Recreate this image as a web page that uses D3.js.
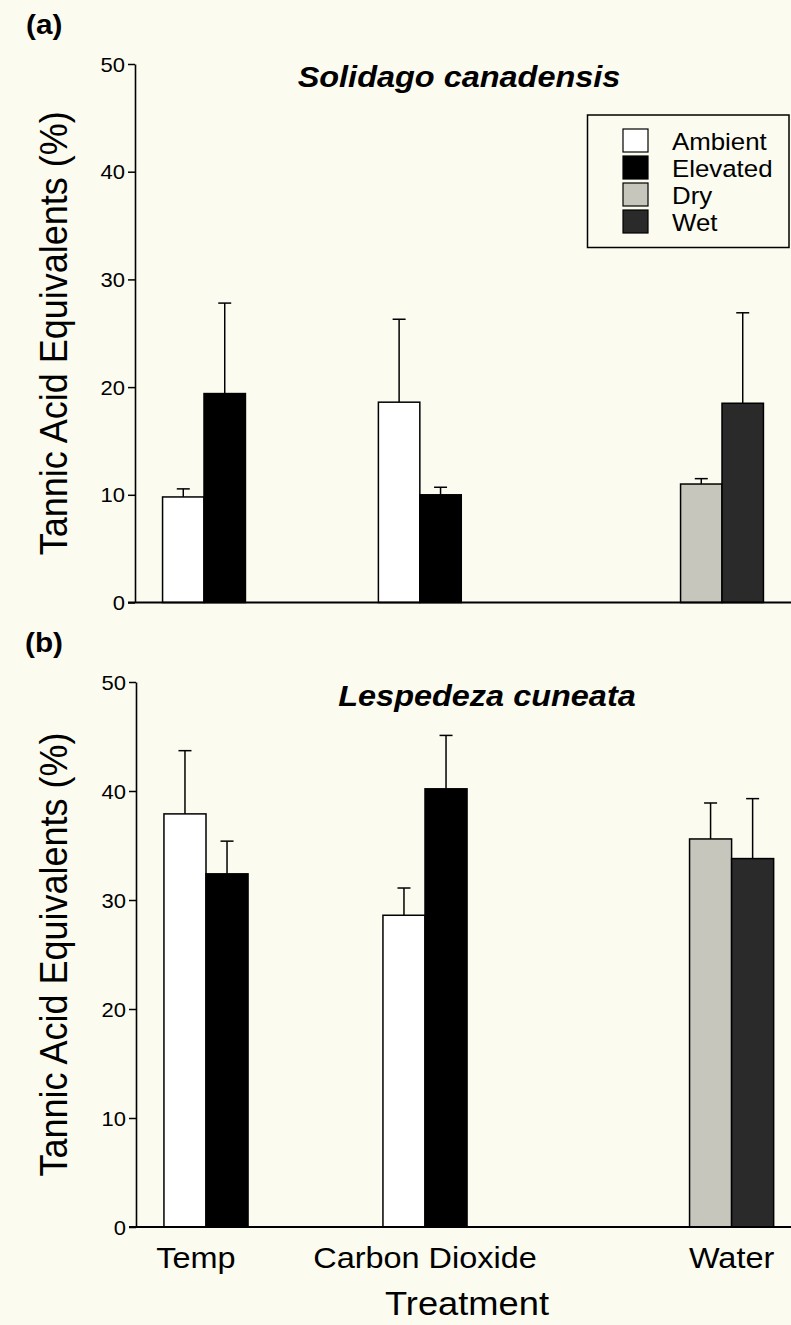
<!DOCTYPE html>
<html>
<head>
<meta charset="utf-8">
<script src="https://cdn.jsdelivr.net/npm/d3@7"></script>
<style>
  html, body { margin: 0; padding: 0; background: #fbfbef; }
  svg { display: block; }
  text { font-family: "Liberation Sans", Arial, sans-serif; fill: #000; }
</style>
</head>
<body>
<svg id="chart" width="791" height="1325"></svg>
<script>
// ---------------- DATA ----------------
const categories = ["Temp", "Carbon Dioxide", "Water"];
const seriesNames = ["Ambient", "Elevated", "Dry", "Wet"];
const groupSeries = [["Ambient", "Elevated"], ["Ambient", "Elevated"], ["Dry", "Wet"]];
const yTicks = [0, 10, 20, 30, 40, 50];

// (a) Solidago canadensis
const solidagoFirst = [9.8, 18.6, 11.0];      // Ambient, Ambient, Dry
const solidagoFirstSE = [0.75, 7.7, 0.5];
const solidagoSecond = [19.4, 10.0, 18.5];    // Elevated, Elevated, Wet
const solidagoSecondSE = [8.4, 0.7, 8.4];

// (b) Lespedeza cuneata
const lespedezaFirst = [37.9, 28.6, 35.6];
const lespedezaFirstSE = [5.8, 2.5, 3.3];
const lespedezaSecond = [32.4, 40.2, 33.8];
const lespedezaSecondSE = [3.0, 4.9, 5.5];

// ---------------- LAYOUT / STYLE ----------------
const groupSlot = [0, 5, 12];           // relative slot of each treatment group on x
const fills = d3.scaleOrdinal().domain(seriesNames).range(["#ffffff", "#000000", "#c6c6bd", "#2a2a2a"]);
const SX = 1.1;                          // horizontal stretch of the original figure's type
const FONT = '"Liberation Sans", Arial, sans-serif';

const svg = d3.select("#chart");

function stretchedText(g, x, y, str, opts) {
  const t = g.append("text")
    .attr("transform", `translate(${x},${y}) scale(${SX},1)` + (opts.rotate ? ` rotate(${opts.rotate})` : ""))
    .attr("text-anchor", opts.anchor || "middle")
    .style("font-size", opts.size + "px")
    .style("font-weight", opts.weight || "normal")
    .style("font-style", opts.italic ? "italic" : "normal")
    .text(str);
  return t;
}

function drawPanel(cfg) {
  const g = svg.append("g");
  const y = d3.scaleLinear().domain([0, 50]).range([cfg.yBottom, cfg.yTop]);
  const x = d3.scaleLinear().domain([0, 12]).range(cfg.xRange);
  const step = (cfg.xRange[1] - cfg.xRange[0]) / 12;
  const barW = step * 0.96;
  const inner = d3.scaleBand().domain([0, 1]).range([-barW, barW]).padding(0);

  const rows = [];
  categories.forEach((c, i) => {
    rows.push({cat: i, k: 0, series: groupSeries[i][0], v: cfg.first[i], se: cfg.firstSE[i]});
    rows.push({cat: i, k: 1, series: groupSeries[i][1], v: cfg.second[i], se: cfg.secondSE[i]});
  });

  // error bars (upper only)
  const eb = g.append("g").attr("stroke", "#000").attr("stroke-width", 1.5);
  rows.forEach(d => {
    const cx = x(groupSlot[d.cat]) + inner(d.k) + inner.bandwidth() / 2;
    eb.append("line").attr("x1", cx).attr("x2", cx).attr("y1", y(d.v)).attr("y2", y(d.v + d.se));
    eb.append("line").attr("x1", cx - 6.5).attr("x2", cx + 6.5).attr("y1", y(d.v + d.se)).attr("y2", y(d.v + d.se));
  });

  // bars
  g.append("g").selectAll("rect").data(rows).join("rect")
    .attr("x", d => x(groupSlot[d.cat]) + inner(d.k))
    .attr("width", inner.bandwidth())
    .attr("y", d => y(d.v))
    .attr("height", d => y(0) - y(d.v))
    .attr("fill", d => fills(d.series))
    .attr("stroke", "#000")
    .attr("stroke-width", 1.5);

  // y axis
  const ya = g.append("g").attr("transform", `translate(${cfg.axisX},0)`)
    .call(d3.axisLeft(y).tickValues(yTicks).tickSize(7).tickSizeOuter(0).tickPadding(3));
  ya.select(".domain").attr("stroke", "#000").attr("stroke-width", 1.6);
  ya.selectAll(".tick line").attr("stroke", "#000").attr("stroke-width", 1.5);
  ya.selectAll(".tick text").each(function () {
    const t = d3.select(this);
    const tx = +t.attr("x");
    t.attr("x", null).attr("dy", "0.35em")
      .attr("transform", `translate(${tx},0) scale(${SX},1)`)
      .style("font-size", "20px").style("font-family", FONT).attr("fill", "#000");
  });

  // x axis line
  g.append("line")
    .attr("x1", cfg.axisX - 7).attr("x2", 791)
    .attr("y1", y(0)).attr("y2", y(0))
    .attr("stroke", "#000").attr("stroke-width", 2);

  // y axis title
  stretchedText(g, 67, (cfg.yTop + cfg.yBottom) / 2, "Tannic Acid Equivalents (%)", {size: 36, rotate: -90});

  // panel letter
  stretchedText(g, cfg.letterX, cfg.letterY, cfg.letter, {size: 27, weight: "bold", anchor: "start"});

  // species title
  stretchedText(g, cfg.titleX, cfg.titleY, cfg.title, {size: 29.5, weight: "bold", italic: true});

  return {g, x, y};
}

const pa = drawPanel({
  yTop: 64, yBottom: 602.5, axisX: 135, xRange: [204, 722],
  first: solidagoFirst, firstSE: solidagoFirstSE, second: solidagoSecond, secondSE: solidagoSecondSE,
  letter: "(a)", letterX: 26, letterY: 34,
  title: "Solidago canadensis", titleX: 459, titleY: 87
});

const pb = drawPanel({
  yTop: 682, yBottom: 1227, axisX: 136, xRange: [206, 731.6],
  first: lespedezaFirst, firstSE: lespedezaFirstSE, second: lespedezaSecond, secondSE: lespedezaSecondSE,
  letter: "(b)", letterX: 25, letterY: 652,
  title: "Lespedeza cuneata", titleX: 487, titleY: 706
});

// category labels under panel b
categories.forEach((c, i) => {
  stretchedText(svg, pb.x(groupSlot[i]) - (i === 0 ? 10 : 0), 1268, c, {size: 29.5});
});
stretchedText(svg, 467, 1315, "Treatment", {size: 33});

// legend (panel a)
const lg = svg.append("g");
lg.append("rect").attr("x", 587.5).attr("y", 115).attr("width", 201.5).attr("height", 132.5)
  .attr("fill", "none").attr("stroke", "#000").attr("stroke-width", 1.5);
seriesNames.forEach((s, i) => {
  lg.append("rect").attr("x", 623).attr("y", 129 + i * 27).attr("width", 25).attr("height", 23)
    .attr("fill", fills(s)).attr("stroke", "#000").attr("stroke-width", 1.2);
  stretchedText(lg, 672, 150 + i * 27, s, {size: 23.5, anchor: "start"});
});
</script>
</body>
</html>
